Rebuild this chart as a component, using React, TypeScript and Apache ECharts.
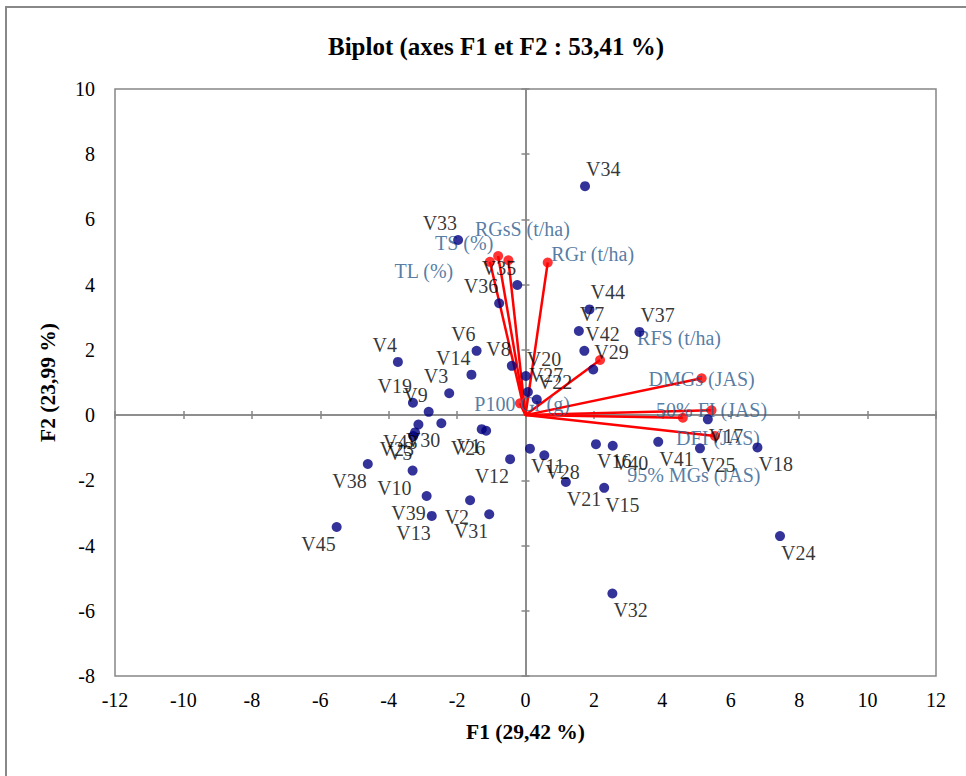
import React, { useEffect, useRef } from 'react';
import * as echarts from 'echarts';

// Observations (F1, F2)
const obsLabels = [
  'V1','V2','V3','V4','V5','V6','V7','V8','V9','V10',
  'V11','V12','V13','V14','V15','V16','V17','V18','V19','V20',
  'V21','V22','V23','V24','V25','V26','V27','V28','V29','V30',
  'V31','V32','V33','V34','V35','V36','V37','V38','V39','V40',
  'V41','V42','V43','V44','V45'
];
const obsF1 = [
  -1.28, -1.62, -2.23, -3.73, -3.28, -1.43, 1.56, -0.40, -2.83, -3.30,
  0.13, -0.45, -2.74, -1.58, 2.30, 2.06, 5.33, 6.78, -3.29, 0.01,
  1.18, 0.33, -3.23, 7.44, 5.10, -1.15, 0.07, 0.55, 1.98, -2.46,
  -1.06, 2.54, -1.97, 1.74, -0.24, -0.77, 3.33, -4.61, -2.89, 2.55,
  3.88, 1.72, -3.13, 1.87, -5.52
];
const obsF2 = [
  -0.43, -2.61, 0.67, 1.63, -0.64, 1.97, 2.58, 1.51, 0.10, -1.70,
  -1.03, -1.35, -3.09, 1.24, -2.23, -0.89, -0.13, -0.99, 0.38, 1.20,
  -2.05, 0.48, -0.53, -3.71, -1.02, -0.48, 0.71, -1.23, 1.40, -0.25,
  -3.04, -5.47, 5.37, 7.02, 3.99, 3.43, 2.55, -1.50, -2.48, -0.94,
  -0.82, 1.97, -0.29, 3.24, -3.43
];

// Variables (vectors)
const varLabels = [
  'TL (%)', 'TS (%)', 'RGsS (t/ha)', 'RGr (t/ha)', 'RFS (t/ha)',
  'DMGs (JAS)', '50% FI (JAS)', 'DFI (JAS)', '95% MGs (JAS)', 'P100 Gr (g)'
];
const varF1 = [-1.04, -0.80, -0.50, 0.65, 2.18, 5.15, 5.44, 5.54, 4.60, -0.16];
const varF2 = [4.70, 4.88, 4.75, 4.68, 1.69, 1.13, 0.15, -0.64, -0.08, 0.36];

// Label placement (style only, pixel offsets from the arrow tips)
const varLabelOffsets = [
  [-66, 9], [-34, -13], [14, -31], [45, -8], [79, -22],
  [0, 1], [0, 0], [3, 2], [11, 57], [2, 1]
];

const title = 'Biplot (axes F1 et F2 : 53,41 %)';
const xName = 'F1 (29,42 %)';
const yName = 'F2 (23,99 %)';

export default function App() {
  const ref = useRef<HTMLDivElement>(null);

  useEffect(() => {
    if (!ref.current) return;
    const chart = echarts.init(ref.current, null, { renderer: 'svg' });
    const font = 'Liberation Serif';
    const gray = '#868686';

    const xBase = { type: 'value', min: -12, max: 12, interval: 2, splitLine: { show: false } };
    const yBase = { type: 'value', min: -8, max: 10, interval: 2, splitLine: { show: false } };
    const zeroLine = { show: true, onZero: true, lineStyle: { color: gray, width: 1.5 } };

    const option: any = {
      animation: false,
      backgroundColor: '#ffffff',
      textStyle: { fontFamily: font },
      title: {
        text: title,
        left: 491,
        textAlign: 'center',
        top: 29,
        textStyle: { fontFamily: font, fontSize: 25, fontWeight: 'bold', color: '#000' }
      },
      graphic: [
        {
          type: 'rect',
          shape: { x: 6, y: 7, width: 1400, height: 1400 },
          style: { fill: 'none', stroke: '#888888', lineWidth: 2 },
          silent: true,
          z: -10
        }
      ],
      grid: {
        left: 115,
        right: 30,
        top: 89,
        bottom: 100,
        show: true,
        borderColor: gray,
        borderWidth: 1.5,
        backgroundColor: 'transparent'
      },
      xAxis: [
        {
          ...xBase,
          position: 'bottom',
          axisLine: { show: false, onZero: false },
          axisTick: { show: false },
          axisLabel: { fontFamily: font, fontSize: 20, color: '#000', margin: 14 },
          name: xName,
          nameLocation: 'middle',
          nameGap: 45,
          nameTextStyle: { fontFamily: font, fontSize: 21.5, fontWeight: 'bold', color: '#000' }
        },
        {
          ...xBase,
          position: 'bottom',
          axisLine: { ...zeroLine, onZeroAxisIndex: 0 },
          axisTick: { show: true, inside: false, length: 4, lineStyle: { color: gray, width: 1.5 } },
          axisLabel: { show: false }
        },
        {
          ...xBase,
          position: 'bottom',
          axisLine: { ...zeroLine, onZeroAxisIndex: 0 },
          axisTick: { show: true, inside: true, length: 4, lineStyle: { color: gray, width: 1.5 } },
          axisLabel: { show: false }
        }
      ],
      yAxis: [
        {
          ...yBase,
          position: 'left',
          axisLine: { show: false, onZero: false },
          axisTick: { show: false },
          axisLabel: { fontFamily: font, fontSize: 20, color: '#000', margin: 20 },
          name: yName,
          nameLocation: 'middle',
          nameGap: 56,
          nameTextStyle: { fontFamily: font, fontSize: 21.5, fontWeight: 'bold', color: '#000' }
        },
        {
          ...yBase,
          position: 'left',
          axisLine: { ...zeroLine, onZeroAxisIndex: 0 },
          axisTick: { show: true, inside: false, length: 4, lineStyle: { color: gray, width: 1.5 } },
          axisLabel: { show: false }
        },
        {
          ...yBase,
          position: 'left',
          axisLine: { ...zeroLine, onZeroAxisIndex: 0 },
          axisTick: { show: true, inside: true, length: 4, lineStyle: { color: gray, width: 1.5 } },
          axisLabel: { show: false }
        }
      ],
      series: [
        ...varLabels.map((n, i) => ({
          type: 'line',
          name: n,
          xAxisIndex: 0,
          yAxisIndex: 0,
          data: [[0, 0], [varF1[i], varF2[i]]],
          symbol: 'none',
          silent: true,
          lineStyle: { color: '#FF0000', width: 2.5 },
          z: 2
        })),
        {
          type: 'scatter',
          xAxisIndex: 0,
          yAxisIndex: 0,
          symbolSize: 10,
          itemStyle: { color: '#FF0000' },
          z: 3,
          data: varLabels.map((n, i) => ({
            name: n,
            value: [varF1[i], varF2[i]],
            label: { offset: varLabelOffsets[i] }
          })),
          label: {
            show: true,
            position: 'inside',
            formatter: '{b}',
            fontFamily: font,
            fontSize: 20,
            color: '#2B5A8C'
          }
        },
        {
          type: 'scatter',
          xAxisIndex: 0,
          yAxisIndex: 0,
          symbolSize: 10,
          itemStyle: { color: '#000080' },
          z: 4,
          data: obsLabels.map((n, i) => {
            const right = obsF1[i] >= 0;
            const up = obsF2[i] >= 0;
            return {
              name: n,
              value: [obsF1[i], obsF2[i]],
              label: {
                align: right ? 'left' : 'right',
                verticalAlign: up ? 'bottom' : 'top',
                offset: [right ? 1 : -1, up ? -7 : 7]
              }
            };
          }),
          label: {
            show: true,
            position: 'inside',
            formatter: '{b}',
            fontFamily: font,
            fontSize: 20,
            color: '#000'
          }
        }
      ]
    };

    chart.setOption(option);
    return () => chart.dispose();
  }, []);

  return (
    <div
      ref={ref}
      style={{ position: 'absolute', left: 0, top: 0, width: 966, height: 776 }}
    />
  );
}
